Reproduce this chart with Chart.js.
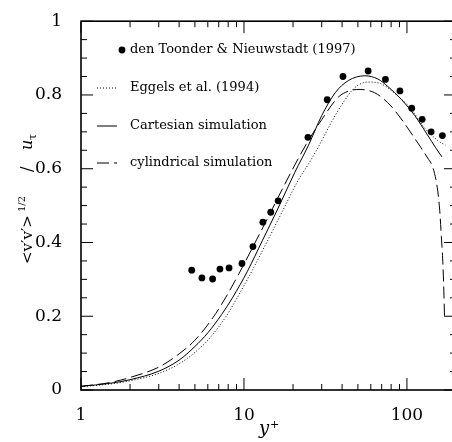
<!DOCTYPE html>
<html>
<head>
<meta charset="utf-8">
<script src="https://cdn.jsdelivr.net/npm/chart.js@4.4.1/dist/chart.umd.min.js"></script>
<style>
  html, body { margin: 0; padding: 0; background: #fff; overflow: hidden; }
  #wrap { width: 460px; height: 442px; }
</style>
</head>
<body>
<div id="wrap"><canvas id="grafico" width="460" height="442"></canvas></div>
<script>
// ==============================
// DATOS
// ==============================

// den Toonder & Nieuwstadt (1997) - puntos
const toonderX = [4.78, 5.52, 6.42, 7.12, 8.1, 9.72, 11.35, 13.06, 14.6, 16.2, 24.7, 32.4, 40.5, 57.8, 73.8, 90.6, 107, 124, 140.7, 165];
const toonderY = [0.325, 0.304, 0.301, 0.328, 0.331, 0.343, 0.389, 0.455, 0.482, 0.513, 0.685, 0.787, 0.850, 0.865, 0.842, 0.811, 0.764, 0.734, 0.700, 0.690];

// Eggels et al. (1994) - punteada
const eggelsX = [1, 1.5, 2, 3, 4, 5, 6, 7.78, 9, 11.1, 14, 17, 21.6, 24.9, 27.3, 29.9, 34.5, 40, 47.9, 57.8, 69.5, 88, 106.5, 127, 154, 172];
const eggelsY = [0.009, 0.016, 0.025, 0.045, 0.071, 0.102, 0.135, 0.2, 0.247, 0.32, 0.406, 0.48, 0.57, 0.613, 0.643, 0.675, 0.727, 0.775, 0.82, 0.835, 0.83, 0.797, 0.761, 0.713, 0.677, 0.664];

// Cartesian simulation - continua
const cartX = [1, 1.5, 2, 3, 4, 5, 6, 7.3, 8.5, 10.5, 13, 16, 20.5, 24.9, 30, 36.3, 43.7, 55.2, 66.5, 76.3, 92.3, 111.7, 134, 150, 164];
const cartY = [0.01, 0.018, 0.028, 0.051, 0.081, 0.118, 0.155, 0.205, 0.25, 0.322, 0.406, 0.488, 0.59, 0.664, 0.744, 0.806, 0.839, 0.852, 0.843, 0.823, 0.788, 0.744, 0.691, 0.657, 0.632];

// cylindrical simulation - discontinua
const cilX = [1, 1.5, 2, 3, 4, 5, 6.47, 7.75, 9.33, 12, 15, 19.3, 24, 30, 38.1, 45, 51.5, 63.3, 76.3, 92.3, 111.7, 122, 134, 144, 153.5, 158.9, 162.6, 166.4, 168.5, 170];
const cilY = [0.01, 0.02, 0.034, 0.062, 0.098, 0.135, 0.197, 0.252, 0.316, 0.409, 0.493, 0.588, 0.665, 0.733, 0.795, 0.812, 0.815, 0.806, 0.779, 0.735, 0.682, 0.657, 0.629, 0.604, 0.549, 0.487, 0.416, 0.337, 0.266, 0.2];

const etiquetas = [
    "den Toonder & Nieuwstadt (1997)",
    "Eggels et al. (1994)",
    "Cartesian simulation",
    "cylindrical simulation"
];

// marcas de los ejes
const xMayores = [1, 10, 100];
const xMenores = [2, 3, 4, 5, 6, 7, 8, 9, 20, 30, 40, 50, 60, 70, 80, 90];
const yMayores = [0, 0.2, 0.4, 0.6, 0.8, 1];
const yMenores = [0.05, 0.1, 0.15, 0.25, 0.3, 0.35, 0.45, 0.5, 0.55, 0.65, 0.7, 0.75, 0.85, 0.9, 0.95];

const FUENTE = '"DejaVu Serif"';

function pares(xs, ys) {
    return xs.map((x, i) => ({ x: x, y: ys[i] }));
}

// ==============================
// MARCO, MARCAS, LEYENDA, TITULOS
// ==============================
const marcoPlugin = {
    id: 'marco',
    afterDraw(chart) {
        const c = chart.ctx;
        const a = chart.chartArea;
        const sx = chart.scales.x;
        const sy = chart.scales.y;

        c.save();
        c.strokeStyle = '#000';
        c.lineWidth = 1;
        c.beginPath();
        const marcaX = (v, largo) => {
            const p = sx.getPixelForValue(v);
            c.moveTo(p, a.bottom); c.lineTo(p, a.bottom - largo);
            c.moveTo(p, a.top); c.lineTo(p, a.top + largo);
        };
        const marcaY = (v, largo) => {
            const p = sy.getPixelForValue(v);
            c.moveTo(a.left, p); c.lineTo(a.left + largo, p);
            c.moveTo(a.right, p); c.lineTo(a.right - largo, p);
        };
        xMayores.forEach(v => marcaX(v, 12));
        xMenores.forEach(v => marcaX(v, 6));
        yMayores.forEach(v => marcaY(v, 12));
        yMenores.forEach(v => marcaY(v, 6));
        c.stroke();

        c.lineWidth = 1.6;
        c.strokeRect(a.left, a.top, a.right - a.left, a.bottom - a.top);

        // leyenda
        const filas = [50, 88, 126, 163];
        c.fillStyle = '#000';
        c.font = '13px ' + FUENTE;
        c.textBaseline = 'middle';
        c.textAlign = 'left';
        const ds = chart.data.datasets;
        etiquetas.forEach((txt, i) => {
            const y = filas[i];
            const d = ds.find(s => s.label === txt);
            if (d.showLine) {
                c.beginPath();
                c.lineWidth = d.borderWidth;
                c.setLineDash(d.borderDash || []);
                c.moveTo(97, y);
                c.lineTo(117, y);
                c.stroke();
                c.setLineDash([]);
            } else {
                c.beginPath();
                c.arc(122, y, d.pointRadius, 0, Math.PI * 2);
                c.fill();
            }
            c.fillText(txt, 130, y);
        });

        // titulo eje x
        c.textBaseline = 'alphabetic';
        c.font = 'italic 18px ' + FUENTE;
        c.fillText('y', 259, 434);
        c.font = '11px ' + FUENTE;
        c.fillText('+', 270, 428);

        // titulo eje y (girado, se lee de abajo hacia arriba)
        c.translate(32, 264);
        c.rotate(-Math.PI / 2);
        const partes = [
            ['<v′v′>', '15px ' + FUENTE, 0, 0],
            ['1/2', '10px ' + FUENTE, -7, 52],
            ['/', '16px ' + FUENTE, 0, 92],
            ['u', 'italic 16px ' + FUENTE, 0, 114],
            ['τ', '11px ' + FUENTE, 4, 124]
        ];
        partes.forEach(p => {
            c.font = p[1];
            c.fillText(p[0], p[3], p[2]);
        });
        c.restore();
    }
};

// ==============================
// GRAFICO
// ==============================
Chart.defaults.color = '#000';

new Chart(document.getElementById('grafico'), {
    type: 'scatter',
    data: {
        datasets: [
            {
                label: etiquetas[1],
                data: pares(eggelsX, eggelsY),
                showLine: true,
                borderColor: '#000',
                borderWidth: 1,
                borderDash: [1, 2],
                pointRadius: 0,
                cubicInterpolationMode: 'monotone'
            },
            {
                label: etiquetas[2],
                data: pares(cartX, cartY),
                showLine: true,
                borderColor: '#000',
                borderWidth: 1,
                pointRadius: 0,
                cubicInterpolationMode: 'monotone'
            },
            {
                label: etiquetas[3],
                data: pares(cilX, cilY),
                showLine: true,
                borderColor: '#000',
                borderWidth: 1,
                borderDash: [12, 5],
                pointRadius: 0,
                cubicInterpolationMode: 'monotone'
            },
            {
                label: etiquetas[0],
                data: pares(toonderX, toonderY),
                showLine: false,
                backgroundColor: '#000',
                borderColor: '#000',
                borderWidth: 0,
                pointRadius: 3.4
            }
        ]
    },
    options: {
        responsive: false,
        animation: false,
        devicePixelRatio: 1,
        layout: { padding: { left: 0, top: 14, right: 1.6, bottom: 0 } },
        plugins: {
            legend: { display: false },
            tooltip: { enabled: false }
        },
        scales: {
            x: {
                type: 'logarithmic',
                min: 1,
                max: 200,
                grid: { display: false },
                border: { display: false },
                afterBuildTicks: s => { s.ticks = xMayores.map(v => ({ value: v })); },
                afterFit: s => { s.height = 52; },
                ticks: {
                    padding: 7,
                    font: { family: FUENTE, size: 17 },
                    callback: v => String(v)
                }
            },
            y: {
                min: 0,
                max: 1,
                grid: { display: false },
                border: { display: false },
                afterBuildTicks: s => { s.ticks = yMayores.map(v => ({ value: v })); },
                afterFit: s => { s.width = 81; },
                ticks: {
                    padding: 11,
                    font: { family: FUENTE, size: 17 },
                    callback: v => String(v)
                }
            }
        }
    },
    plugins: [marcoPlugin]
});
</script>
</body>
</html>
